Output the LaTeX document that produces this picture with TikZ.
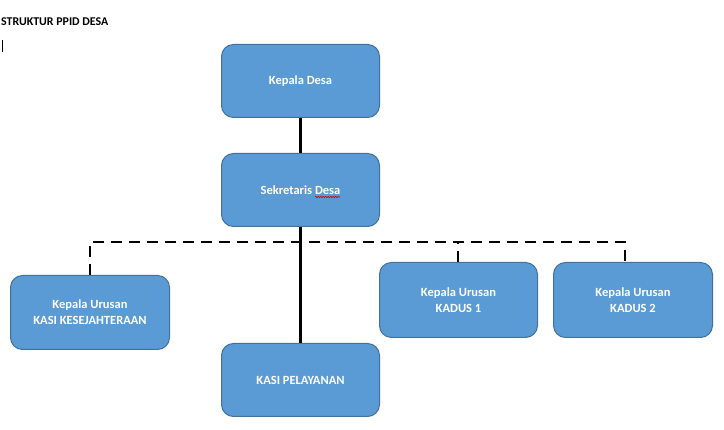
\documentclass[tikz,border=0pt]{standalone}
\usepackage{fontspec}
\setmainfont{Carlito}
\usetikzlibrary{decorations.pathmorphing}
\definecolor{boxfill}{HTML}{5B9BD5}
\definecolor{boxline}{HTML}{41719C}
\begin{document}
\begin{tikzpicture}[x=1pt,y=-1pt,
  orgbox/.style={draw=boxline,line width=1pt,fill=boxfill,rounded corners=12pt,
    minimum width=158pt,minimum height=73pt,inner sep=0pt,anchor=north west,
    text=white,font=\fontsize{12.5}{16}\selectfont\bfseries,align=center},
  solidline/.style={line width=2.8pt,black},
  dashline/.style={line width=2.8pt,black,dash pattern=on 11pt off 7pt}]
\useasboundingbox (0,0) rectangle (724,430);
\node[anchor=west,inner sep=0pt,font=\fontsize{11.9}{13}\selectfont\bfseries] (title) at (1,22) {STRUKTUR PPID DESA};
\coordinate (curA) at (2,40);
\coordinate (curB) at (2,52);
\draw[line width=0.8pt] (curA) -- (curB);
\node[orgbox] (kd) at (221,44) {Kepala Desa};
\node[orgbox] (sd) at (221,153) {Sekretaris Desa};
\node[orgbox,minimum width=159pt,minimum height=74pt] (ks) at (10,275) {Kepala Urusan\\KASI KESEJAHTERAAN};
\node[orgbox] (kp) at (221,343) {KASI PELAYANAN};
\node[orgbox,minimum height=75pt] (k1) at (379,262) {Kepala Urusan\\KADUS 1};
\node[orgbox,minimum width=159pt,minimum height=75pt] (k2) at (553,262) {Kepala Urusan\\KADUS 2};
\coordinate (spA) at (315,197);
\coordinate (spB) at (340,197);
\draw[red!85!black,line width=0.6pt,decorate,decoration={snake,amplitude=0.7pt,segment length=2.5pt}] (spA) -- (spB);
\coordinate (dl) at (90,242);
\coordinate (dr) at (625,242);
\draw[solidline] (kd.south) -- (sd.north);
\draw[solidline] (sd.south) -- (kp.north);
\draw[dashline] (ks.north -| dl) -- (dl) -- (dr) -- (k2.north -| dr);
\draw[dashline] (k1.north -| 458,0) -- (458,242);
\end{tikzpicture}
\end{document}
